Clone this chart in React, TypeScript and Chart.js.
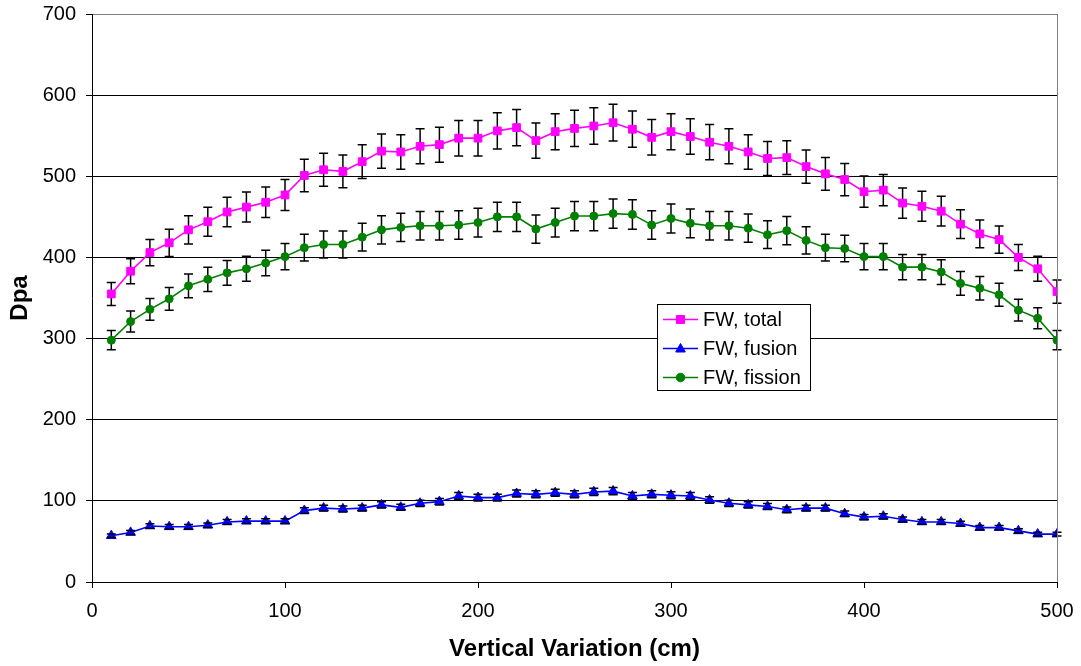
import React, { useEffect, useRef } from "react";
import { Chart, registerables } from "chart.js";

Chart.register(...registerables);

// ---- data ----
const xValues = [
  10, 20, 30, 40, 50, 60, 70, 80, 90, 100,
  110, 120, 130, 140, 150, 160, 170, 180, 190, 200,
  210, 220, 230, 240, 250, 260, 270, 280, 290, 300,
  310, 320, 330, 340, 350, 360, 370, 380, 390, 400,
  410, 420, 430, 440, 450, 460, 470, 480, 490, 500,
];

const totalValues = [
  355, 383, 406, 418, 434, 444, 456, 462, 468, 477,
  501, 508, 506, 518, 531, 530, 537, 539, 547, 547,
  556, 560, 544, 555, 559, 562, 566, 558, 548, 555,
  549, 542, 537, 530, 522, 523, 512, 503, 496, 481,
  483, 467, 463, 457, 441, 429, 422, 400, 386, 358,
];

const fusionValues = [
  57, 61, 69, 68, 68, 70, 74, 75, 75, 75,
  88, 91, 90, 91, 95, 92, 97, 99, 106, 104,
  104, 109, 108, 110, 108, 111, 112, 106, 108, 107,
  106, 101, 97, 95, 93, 89, 91, 91, 84, 80,
  81, 77, 74, 74, 72, 67, 67, 63, 59, 59,
];

const fissionValues = [
  298, 321, 336, 349, 365, 373, 381, 386, 393, 401,
  412, 416, 416, 425, 434, 437, 439, 439, 440, 443,
  450, 450, 435, 443, 451, 451, 454, 453, 440, 448,
  442, 439, 439, 436, 428, 433, 421, 412, 411, 401,
  401, 388, 388, 382, 368, 362, 354, 335, 325, 298,
];

// Excel-style percentage error bars
const errorPercent = 4;

const seriesNames = ["FW, total", "FW, fusion", "FW, fission"];
const seriesColors = ["#FF00FF", "#0000FF", "#008000"];
const seriesMarkers = ["rect", "triangle", "circle"];

const xTicks = [0, 100, 200, 300, 400, 500];
const yTicks = [0, 100, 200, 300, 400, 500, 600, 700];

const xTitle = "Vertical Variation (cm)";
const yTitle = "Dpa";

const FONT = "'Liberation Sans', Arial, Helvetica, sans-serif";

function drawMarker(ctx: CanvasRenderingContext2D, style: string, x: number, y: number, color: string) {
  ctx.save();
  ctx.fillStyle = color;
  ctx.strokeStyle = color;
  ctx.lineWidth = 1;
  ctx.beginPath();
  if (style === "rect") {
    ctx.rect(x - 4, y - 4, 8, 8);
  } else if (style === "triangle") {
    ctx.moveTo(x, y - 5);
    ctx.lineTo(x + 4.8, y + 3.5);
    ctx.lineTo(x - 4.8, y + 3.5);
    ctx.closePath();
  } else {
    ctx.arc(x, y, 4.3, 0, Math.PI * 2);
  }
  ctx.fill();
  ctx.stroke();
  ctx.restore();
}

const errorBarPlugin = {
  id: "errorBars",
  beforeDatasetsDraw(chart: any) {
    const { ctx } = chart;
    const xs = chart.scales.x;
    const ys = chart.scales.y;
    ctx.save();
    ctx.strokeStyle = "#000";
    ctx.lineWidth = 1.5;
    chart.data.datasets.forEach((ds: any) => {
      ds.data.forEach((p: any) => {
        const e = (p.y * errorPercent) / 100;
        const px = xs.getPixelForValue(p.x);
        const top = ys.getPixelForValue(p.y + e);
        const bot = ys.getPixelForValue(p.y - e);
        ctx.beginPath();
        ctx.moveTo(px, top);
        ctx.lineTo(px, bot);
        ctx.stroke();
      });
    });
    ctx.restore();
  },
  afterDatasetsDraw(chart: any) {
    const { ctx } = chart;
    const xs = chart.scales.x;
    const ys = chart.scales.y;
    ctx.save();
    ctx.strokeStyle = "#000";
    ctx.lineWidth = 1.5;
    chart.data.datasets.forEach((ds: any) => {
      ds.data.forEach((p: any) => {
        const e = (p.y * errorPercent) / 100;
        const px = xs.getPixelForValue(p.x);
        const top = ys.getPixelForValue(p.y + e);
        const bot = ys.getPixelForValue(p.y - e);
        ctx.beginPath();
        ctx.moveTo(px - 4.5, top);
        ctx.lineTo(px + 4.5, top);
        ctx.moveTo(px - 4.5, bot);
        ctx.lineTo(px + 4.5, bot);
        ctx.stroke();
      });
    });
    ctx.restore();
  },
};

const frameAndLegendPlugin = {
  id: "frameAndLegend",
  afterDraw(chart: any) {
    const { ctx, chartArea } = chart;
    ctx.save();
    // right border of plot area
    ctx.strokeStyle = "#808080";
    ctx.lineWidth = 1;
    ctx.beginPath();
    const rx = Math.round(chartArea.right) + 0.5;
    ctx.moveTo(rx, chartArea.top);
    ctx.lineTo(rx, chartArea.bottom);
    ctx.stroke();

    // legend box
    const left = 657.5, top = 304.5, w = 153, h = 86;
    ctx.fillStyle = "#fff";
    ctx.fillRect(left, top, w, h);
    ctx.strokeStyle = "#000";
    ctx.lineWidth = 1;
    ctx.strokeRect(left, top, w, h);
    const rows = [319.5, 348.5, 377.5];
    ctx.font = `20px ${FONT}`;
    ctx.textBaseline = "middle";
    ctx.textAlign = "left";
    seriesNames.forEach((name, i) => {
      const y = rows[i];
      ctx.strokeStyle = seriesColors[i];
      ctx.lineWidth = 1.5;
      ctx.beginPath();
      ctx.moveTo(663, y);
      ctx.lineTo(698, y);
      ctx.stroke();
      drawMarker(ctx, seriesMarkers[i], 680.5, y, seriesColors[i]);
      ctx.fillStyle = "#000";
      ctx.fillText(name, 703, y + 1);
    });
    ctx.restore();
  },
};

export default function App() {
  const canvasRef = useRef<HTMLCanvasElement | null>(null);

  useEffect(() => {
    if (!canvasRef.current) return;
    const series = [totalValues, fusionValues, fissionValues];
    const radii = [5.5, 5.6, 4];
    const datasets = series.map((vals, i) => ({
      label: seriesNames[i],
      data: xValues.map((x, j) => ({ x, y: vals[j] })),
      borderColor: seriesColors[i],
      backgroundColor: seriesColors[i],
      pointBackgroundColor: seriesColors[i],
      pointBorderColor: seriesColors[i],
      pointStyle: seriesMarkers[i],
      pointRadius: radii[i],
      pointBorderWidth: 1,
      borderWidth: 1.6,
      tension: 0,
      fill: false,
    }));

    const chart = new Chart(canvasRef.current, {
      type: "line",
      data: { datasets } as any,
      options: {
        animation: false,
        responsive: false,
        maintainAspectRatio: false,
        events: [],
        layout: { padding: { top: 14, right: 24, left: 0, bottom: 0 } },
        plugins: {
          legend: { display: false },
          tooltip: { enabled: false },
        },
        scales: {
          x: {
            type: "linear",
            min: 0,
            max: 500,
            afterBuildTicks: (s: any) => {
              s.ticks = xTicks.map((v) => ({ value: v }));
            },
            afterFit: (s: any) => {
              s.height = 84;
              s.paddingLeft = 0;
              s.paddingRight = 0;
            },
            grid: {
              drawOnChartArea: false,
              drawTicks: true,
              tickLength: 6,
              color: "#000",
              tickColor: "#000",
            },
            border: { display: true, color: "#000", width: 1 },
            ticks: {
              color: "#000",
              font: { family: FONT, size: 20 },
              padding: 11,
              maxRotation: 0,
              autoSkip: false,
            },
            title: {
              display: true,
              text: xTitle,
              color: "#000",
              font: { family: FONT, size: 24, weight: "bold" },
              padding: { top: 0, bottom: 2 },
            },
          },
          y: {
            type: "linear",
            min: 0,
            max: 700,
            afterBuildTicks: (s: any) => {
              s.ticks = yTicks.map((v) => ({ value: v }));
            },
            afterFit: (s: any) => {
              s.width = 92;
              s.paddingTop = 0;
              s.paddingBottom = 0;
            },
            grid: {
              drawOnChartArea: true,
              drawTicks: true,
              tickLength: 6,
              color: (c: any) => (c.tick && c.tick.value === 700 ? "#808080" : "#000"),
              tickColor: "#000",
              lineWidth: 1,
            },
            border: { display: true, color: "#000", width: 1 },
            ticks: {
              color: "#000",
              font: { family: FONT, size: 20 },
              padding: 10,
              autoSkip: false,
            },
            title: {
              display: true,
              text: yTitle,
              color: "#000",
              font: { family: FONT, size: 24, weight: "bold" },
              padding: { top: 6, bottom: 0 },
            },
          },
        },
      } as any,
      plugins: [errorBarPlugin, frameAndLegendPlugin],
    });

    return () => chart.destroy();
  }, []);

  return (
    <div style={{ position: "fixed", left: 0, top: 0, width: 1081, height: 666, background: "#fff" }}>
      <canvas ref={canvasRef} width={1081} height={666} style={{ width: 1081, height: 666, display: "block" }} />
    </div>
  );
}
